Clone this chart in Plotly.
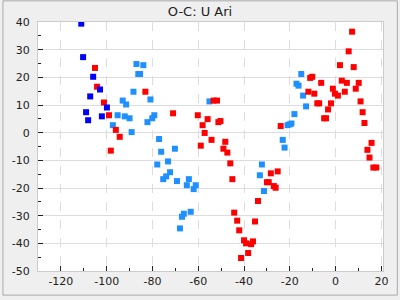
import plotly.graph_objects as go

# dark blue series
blue_x = [-111.1, -110.3, -105.9, -102.9, -107.2, -99.9, -109.0, -108.1, -102.1]
blue_y = [39.4, 27.3, 20.2, 15.6, 13.1, 9.1, 7.4, 4.5, 5.9]

# dodger blue series
lblue_x = [-93.0, -91.5, -95.2, -92.1, -97.3, -87.0, -84.0, -86.2, -85.4, -88.3,
           -80.9, -90.0, -89.1, -79.2, -80.1, -82.2, -77.1, -76.2, -70.2, -73.2,
           -77.9, -72.3, -74.0, -75.3, -69.3, -64.1, -65.0, -61.1, -62.0, -63.3,
           -66.3, -67.1, -68.0, -55.1, -32.2, -33.1, -31.3, -23.1, -22.3, -21.0,
           -20.1, -19.3, -18.0, -15.0, -17.1, -16.2, -14.2, -12.9]
lblue_y = [11.6, 10.2, 6.3, 5.9, 2.7, 24.8, 24.4, 21.2, 21.2, 14.8,
           12.0, 5.2, 0.2, 6.3, 5.2, 3.8, -2.3, -6.9, -5.8, -10.4,
           -11.5, -14.3, -15.8, -16.8, -17.5, -16.8, -19.0, -19.0, -20.4, -28.6,
           -29.3, -30.4, -34.6, 11.3, -11.5, -15.4, -21.1, -2.6, -5.4, 2.7,
           3.0, 3.3, 6.7, 21.2, 17.7, 17.0, 13.4, 9.5]

# red series
red_x = [-105.1, -104.2, -101.2, -99.0, -96.0, -94.3, -98.2, -83.1, -71.0, -60.2,
         -55.9, -58.1, -57.2, -54.2, -58.9, -53.3, -51.8, -51.2, -50.3, -48.2,
         -49.0, -47.3, -46.0, -45.1, -33.9, -44.3, -43.0, -35.2, -42.1, -40.0,
         -39.1, -36.9, -36.1, -38.2, -41.3, -28.3, -25.3, -30.0, -29.2, -27.0,
         -26.2, -24.0, 7.2, 5.7, 1.9, 7.9, -11.1, -10.2, -6.3, 2.7,
         4.9, 10.1, -1.2, 8.8, -11.9, -9.3, -0.3, 1.0, 4.0, -8.0,
         -7.2, -2.0, 10.9, -3.3, 11.8, -5.0, -4.2, 12.6, 15.7, 13.9,
         14.8, 16.5, 17.8]
red_y = [23.4, 16.6, 10.9, 6.3, 1.0, -1.5, -6.5, 14.8, 7.0, 6.3,
         4.9, 2.7, -0.1, -2.6, -4.7, 11.6, 11.6, 3.8, 4.2, -3.3,
         -5.8, -7.2, -11.1, -16.8, -24.7, -28.9, -31.8, -32.1, -35.3, -38.9,
         -40.0, -40.3, -39.3, -43.5, -45.3, -14.7, -14.0, -17.9, -17.9, -19.3,
         -19.9, 2.4, 36.5, 29.4, 24.4, 23.7, 19.8, 20.2, 18.0, 18.8,
         18.0, 18.0, 15.9, 15.9, 14.8, 14.1, 14.1, 13.4, 14.8, 10.6,
         10.6, 10.6, 11.3, 8.4, 7.4, 5.2, 5.2, 3.5, -3.7, -6.2,
         -9.0, -12.6, -12.6]

x_ticks = [-120, -100, -80, -60, -40, -20, 0, 20]
x_labels = ["-120", "-100", "-80", "-60", "-40", "-20", "0", "20"]
y_ticks = [-50, -40, -30, -20, -10, 0, 10, 20, 30, 40]
y_labels = ["-50", "-40", "-30", "-20", "-10", "0", "10", "20", "30", "40"]

fig = go.Figure()
mk = dict(symbol="square", size=6, line=dict(width=0))
fig.add_trace(go.Scatter(x=lblue_x, y=lblue_y, mode="markers",
                         marker=dict(color="#1e90ff", **mk)))
fig.add_trace(go.Scatter(x=red_x, y=red_y, mode="markers",
                         marker=dict(color="#ff0000", **mk)))
fig.add_trace(go.Scatter(x=blue_x, y=blue_y, mode="markers",
                         marker=dict(color="#0000ff", **mk)))

L, R, T, B = 36, 15, 22, 25
W, H = 400, 300
pw, ph = W - L - R, H - T - B

fig.update_layout(
    width=W, height=H,
    margin=dict(l=L, r=R, t=T, b=B),
    paper_bgcolor="#efefef",
    plot_bgcolor="white",
    showlegend=False,
    font=dict(family="DejaVu Sans", size=11, color="#222"),
    title=dict(text="O-C: U Ari", x=0.5, xanchor="center", y=1 - 11 / H,
               yanchor="middle", font=dict(size=13, color="#222")),
    xaxis=dict(range=[-130, 20.7], tickvals=x_ticks, ticktext=x_labels,
               ticks="inside", ticklen=5,
               tickcolor="#222", showgrid=True, gridcolor="#dddddd",
               griddash="dash", gridwidth=1, zeroline=False,
               showline=True, linecolor="#cccccc", mirror=True,
               minor=dict(dtick=10, tick0=0, ticks="inside", ticklen=3,
                          tickcolor="#222", showgrid=False)),
    yaxis=dict(range=[-50, 40], tickvals=y_ticks, ticktext=y_labels,
               ticks="inside", ticklen=5,
               tickcolor="#222", showgrid=True, gridcolor="#dddddd",
               gridwidth=1, zeroline=False, ticklabelstandoff=5,
               showline=True, linecolor="#cccccc", mirror=True,
               minor=dict(dtick=5, tick0=0, ticks="inside", ticklen=3,
                          tickcolor="#222", showgrid=False)),
)

# outer border around the whole figure
fig.add_shape(type="rect", xref="paper", yref="paper",
              x0=-(L - 0.5) / pw, x1=(W - L - 0.5) / pw,
              y0=-(B - 0.5) / ph, y1=(H - B - 0.5) / ph,
              line=dict(color="#aaaaaa", width=1), fillcolor="rgba(0,0,0,0)",
              layer="above")

fig.write_html("out.html")
